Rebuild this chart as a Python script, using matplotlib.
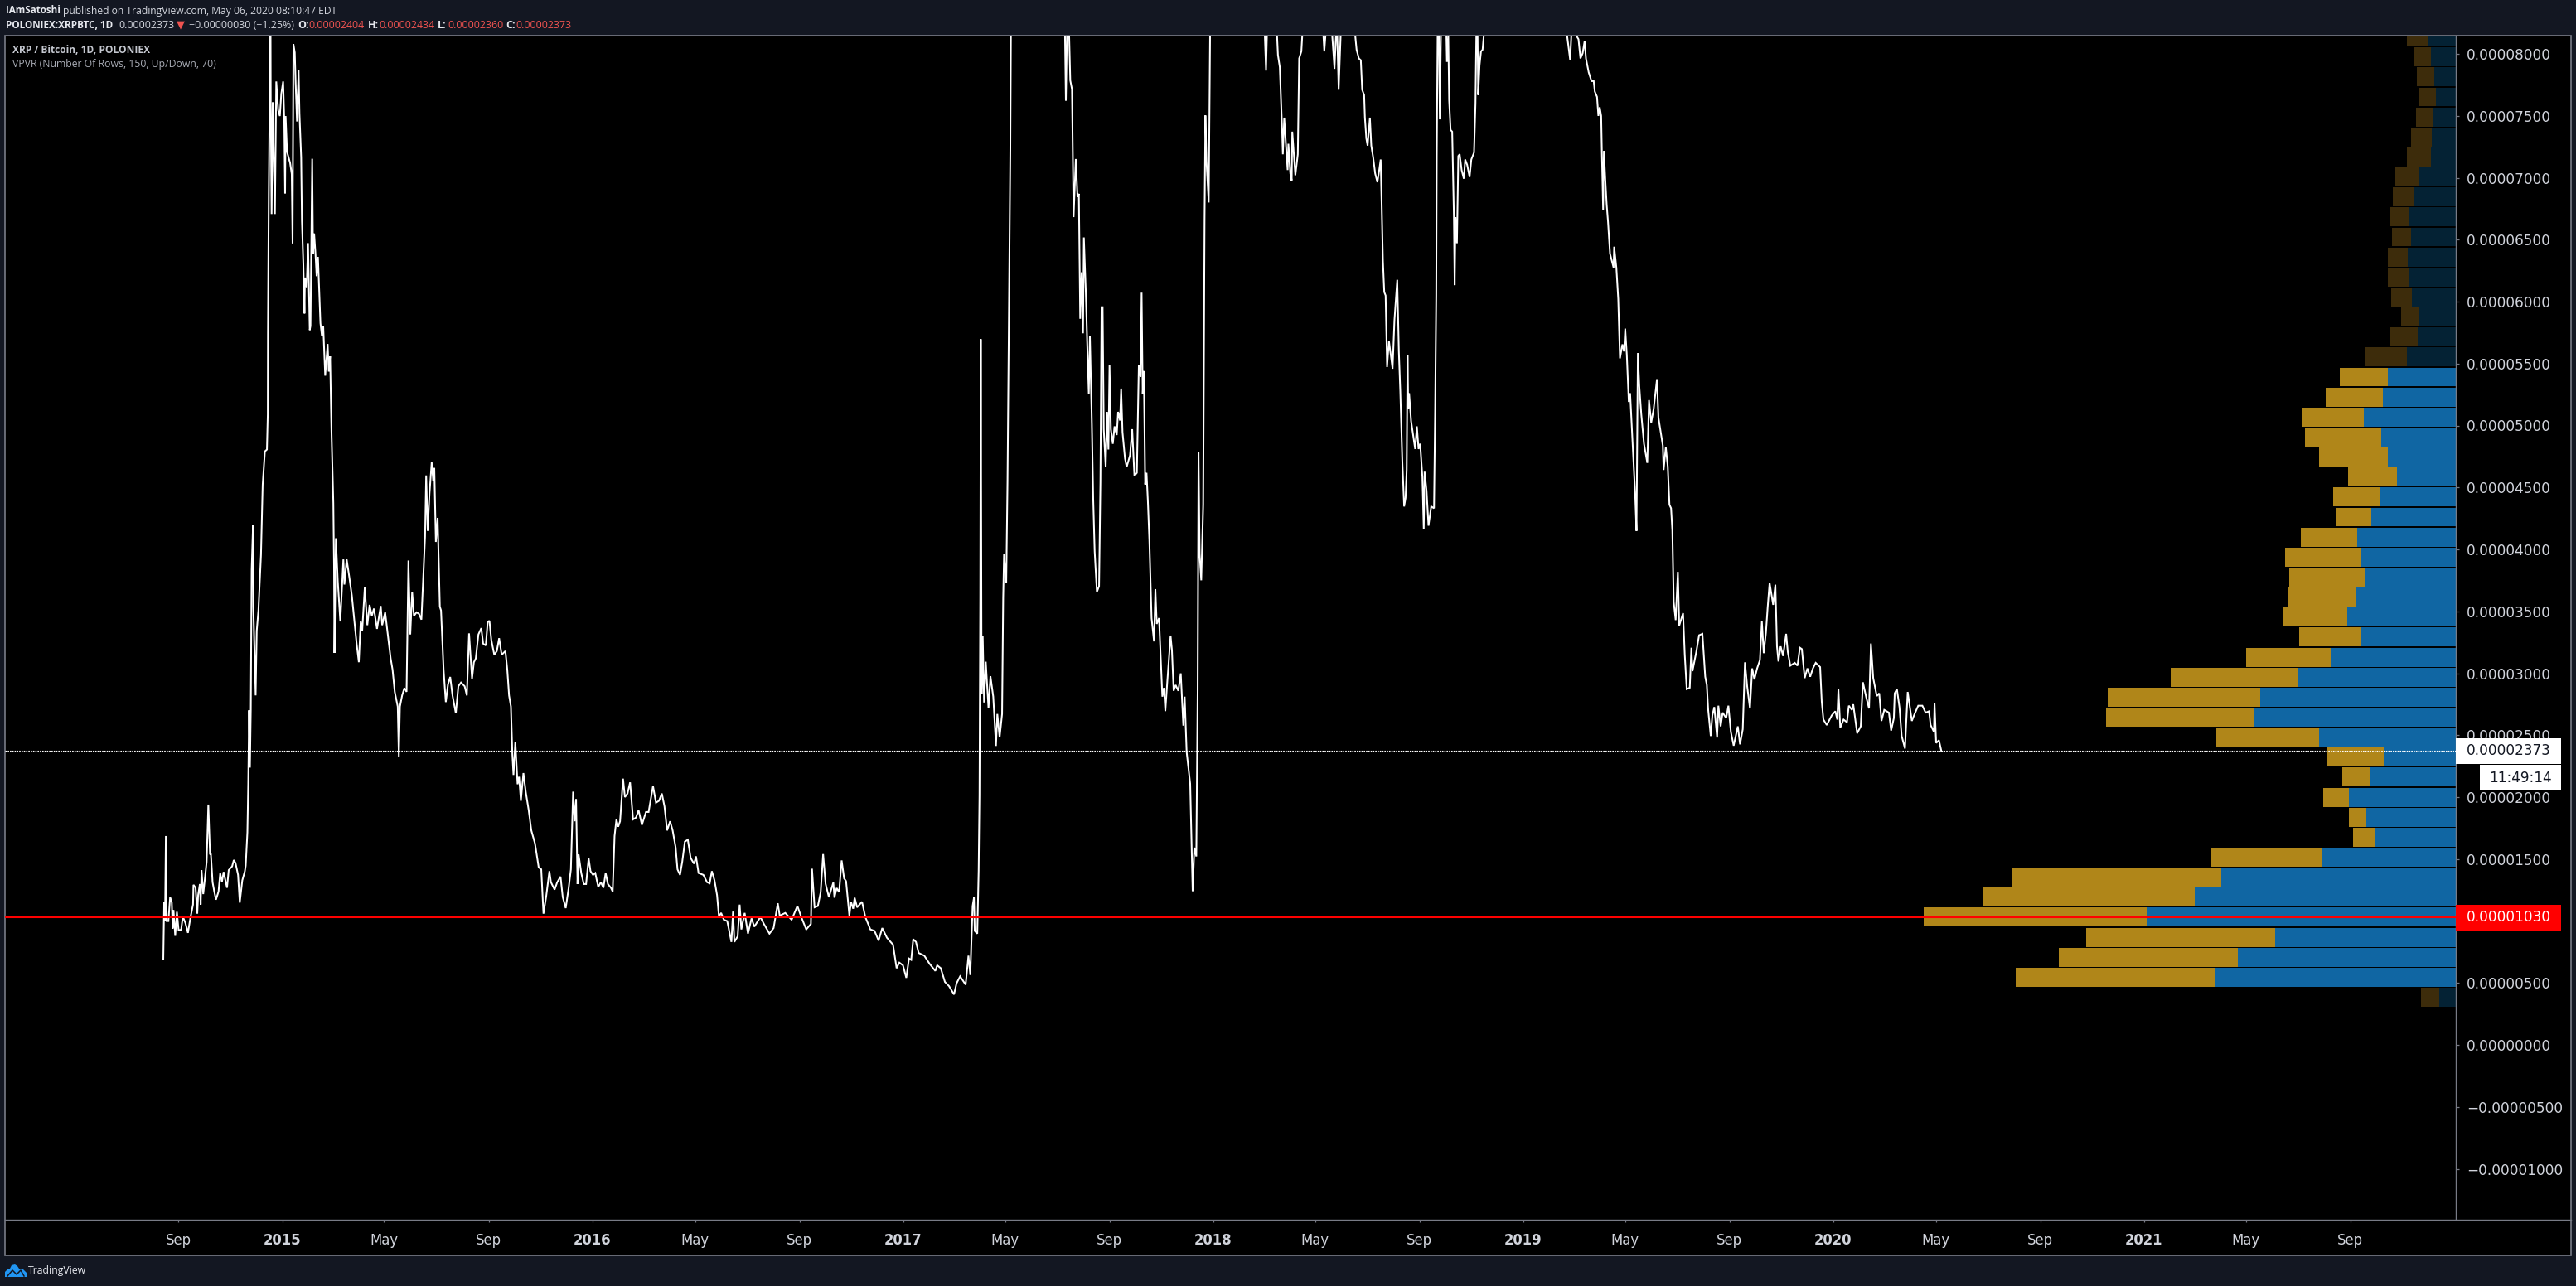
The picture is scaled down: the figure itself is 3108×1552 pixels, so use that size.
import matplotlib
matplotlib.use('Agg')
import matplotlib.pyplot as plt
import matplotlib.transforms as mtransforms
from matplotlib.patches import Rectangle, Polygon
from matplotlib.lines import Line2D
import numpy as np
import pandas as pd

# day numbers are counted from 2015-01-01, closes are in satoshi (1e-8 BTC)
days_2014 = [-140, -139, -138, -137, -136, -134, -132, -130, -129, -128, -126, -124, -122, -119, -117, -114, -111, -108, -105, -104.5, -102, -100, -99, -97, -96, -95, -93, -91, -89, -87, -85, -84, -82, -80, -78, -75, -73, -71, -69, -65, -63, -59, -57, -55, -52, -50, -47, -44, -43, -41, -40, -39, -38, -37, -36, -34.4, -34, -31.3, -30, -28, -25, -23, -20.4, -18, -17, -16.8, -15.8, -15.1, -14.5, -14.2, -13.8, -13.5, -12.5, -11.2, -8.6, -7, -4.7, -2.8, -1.1]
close_2014 = [695, 1148, 999, 1686, 999, 999, 1193, 1148, 939, 1089, 880, 1074, 925, 930, 1035, 984, 904, 1029, 1133, 1292, 1268, 1059, 1208, 1298, 1133, 1411, 1217, 1343, 1477, 1940, 1537, 1543, 1313, 1238, 1172, 1238, 1387, 1313, 1396, 1268, 1411, 1441, 1492, 1468, 1372, 1148, 1328, 1402, 1447, 1716, 2104, 2701, 2238, 2701, 3836, 4194, 3537, 2821, 3343, 3507, 3955, 4523, 4791, 4806, 5090, 5737, 6874, 7387, 7855, 8140, 8500, 7610, 6707, 7610, 6707, 7777, 7543, 7498, 7677]

days_2015 = [1.1, 2.4, 3.4, 4, 5.7, 9.3, 11.2, 12.2, 13.2, 14.8, 15.8, 17.4, 19.3, 20.3, 22.3, 23.2, 24.9, 26.2, 26.8, 28.8, 30.4, 32.4, 33.3, 35.3, 36.3, 37.6, 39.2, 40.5, 42.1, 43.7, 45, 46.7, 48.3, 50.6, 53.5, 54.8, 56.4, 58, 60.2, 61, 61.5, 63.2, 65.4, 68.4, 72, 73.2, 75.9, 79, 82, 84.6, 87.6, 90.2, 92.4, 94.2, 97.2, 100.2, 102.9, 105.5, 108, 111.6, 116, 117.7, 121.2, 124.6, 127.7, 129.9, 132.5, 136, 137.3, 138.6, 141.2, 143.8, 146.4, 148.6, 150.8, 153, 155.1, 158.2, 161.2, 163.9, 165.6, 168.2, 169.5, 171.3, 173.4, 176, 177.8, 179.1, 180.9, 183, 185.6, 187, 190, 192.6, 195.2, 197.8, 200.5, 204.4, 207.4, 210.5, 214.8, 217.4, 220, 223.5, 225.7, 227.9, 231, 234.4, 236.6, 239.7, 241.9, 244, 246.2, 249.7, 252.7, 255.4, 258.4, 262.8, 265, 267.1, 269.3, 271, 272.3, 274.5, 277.1, 278.9, 281, 284, 286.7, 290.2, 293.3, 297.6, 302, 305, 307.6, 310.7, 314.6, 316.4, 320.7, 323.8, 327.7, 330.3, 333.8, 337.3, 339.9, 342.5, 344.3, 346, 347.7, 349, 352.1, 355.1, 357.8, 360.8, 363]
close_2015 = [7777, 7476, 6874, 7498, 7208, 7119, 7030, 6472, 8078, 8011, 7766, 7454, 7866, 7520, 7164, 6651, 6294, 5904, 6194, 6116, 6472, 5770, 5803, 7153, 6383, 6550, 6383, 6205, 6361, 6071, 5826, 5725, 5803, 5402, 5658, 5435, 5558, 4956, 4373, 3866, 3164, 4090, 3746, 3418, 3919, 3716, 3919, 3776, 3627, 3448, 3239, 3089, 3418, 3343, 3693, 3388, 3552, 3463, 3522, 3358, 3543, 3388, 3492, 3298, 3119, 3030, 2850, 2731, 2328, 2731, 2821, 2880, 2850, 3910, 3313, 3657, 3463, 3492, 3478, 3433, 3701, 4105, 4597, 4149, 4448, 4702, 4553, 4657, 4060, 4254, 3537, 3507, 3030, 2767, 2910, 2970, 2821, 2677, 2895, 2925, 2895, 2821, 3322, 2955, 3089, 3119, 3313, 3364, 3239, 3224, 3412, 3424, 3269, 3149, 3179, 3283, 3149, 3179, 3030, 2821, 2731, 2343, 2179, 2447, 2104, 2164, 1970, 2194, 2044, 1895, 1731, 1626, 1432, 1417, 1059, 1193, 1402, 1313, 1253, 1313, 1358, 1193, 1104, 1268, 1417, 2044, 1805, 1985, 1298, 1537, 1387, 1298, 1298, 1507, 1402]

days_2016 = [366, 368.6, 372.1, 375.2, 378.2, 380.8, 383.5, 387, 389.1, 391.3, 393.5, 395.6, 397.8, 401.3, 403.5, 406.6, 409.6, 413.1, 416.6, 419.6, 423.5, 428.3, 431.4, 436.6, 440.1, 443.6, 447, 450.1, 453.2, 456.7, 459.7, 463.2, 465.4, 468.4, 471, 474.1, 477.6, 481, 485, 487.2, 490.2, 495.9, 500.2, 503.3, 505.9, 509, 512, 514.2, 516.8, 520, 524, 528.9, 530.8, 532.4, 536.3, 538.6, 540.6, 544.5, 548.4, 552.6, 555.9, 563, 567.2, 573.7, 578.6, 583.5, 585.8, 592.3, 599.8, 606.6, 611.2, 617, 622.5, 623.8, 626.8, 630.7, 634, 636.9, 639.8, 643.7, 648.9, 650.2, 652.8, 655.7, 658.7, 661.6, 663.9, 667.8, 669.7, 672.3, 674, 676.9, 682.7, 686.6, 692.5, 697.4, 702.2, 706.5, 712, 719.2, 723.4, 726.6]
close_2016 = [1372, 1387, 1274, 1313, 1268, 1387, 1298, 1268, 1238, 1686, 1820, 1761, 1805, 2149, 2000, 2029, 2119, 1820, 1835, 1895, 1776, 1880, 1880, 2089, 1955, 1970, 2029, 1925, 1731, 1805, 1731, 1596, 1417, 1372, 1477, 1641, 1656, 1507, 1462, 1522, 1387, 1372, 1313, 1304, 1402, 1328, 1208, 1035, 1065, 1010, 999, 831, 1076, 831, 876, 1132, 932, 1065, 898, 1021, 954, 1032, 976, 898, 943, 1143, 1043, 1065, 1010, 1121, 1032, 932, 976, 1422, 1110, 1121, 1232, 1540, 1300, 1192, 1311, 1188, 1266, 1233, 1489, 1344, 1322, 1043, 1155, 1099, 1188, 1110, 1155, 1032, 932, 920, 842, 943, 865, 809, 619, 664]

days_2017 = [730.9, 734.8, 738, 740.6, 743, 746.2, 749.4, 756, 762.4, 769, 771.2, 775.4, 780.3, 785.2, 791, 794, 798.2, 804.7, 808, 810.2, 812.9, 814.5, 815.4, 818.4, 820, 821, 821.9, 822.5, 823.5, 824.8, 826.4, 828.4, 831.6, 833.9, 837.2, 840.4, 842, 844.7, 847.6, 848.9, 849.9, 852.5, 854, 856, 857.3, 858, 860, 875, 890, 905, 918, 921.7, 922.7, 924, 925.3, 926.6, 927.9, 929.9, 931.8, 934.4, 936.4, 938, 939.6, 941.3, 942.9, 943.9, 946.1, 947.8, 949.7, 951, 953.3, 954.9, 956.6, 959.2, 961.8, 963.4, 964.7, 966, 967.3, 969.6, 971.2, 972.8, 974.1, 975.7, 978, 980, 982.6, 984.2, 986.5, 987.8, 989.4, 992.3, 994.3, 998.2, 1000.8, 1003.4, 1006.3, 1008.6, 1010.6, 1011.9, 1013.2, 1014.5, 1016.1, 1017.7, 1019.3, 1021, 1023.6, 1026.5, 1028.1, 1029.7, 1032.4, 1034.6, 1036.3, 1038.2, 1039.8, 1042.1, 1046, 1047.6, 1049.6, 1051.9, 1055.1, 1058, 1061, 1062.6, 1064.9, 1069.1, 1072, 1074, 1076.3, 1077.9, 1078.9, 1080.2, 1082.1, 1084.4, 1086, 1087, 1088.3, 1090.9, 1092.5]
close_2017 = [642, 541, 697, 686, 853, 831, 742, 720, 653, 597, 642, 619, 508, 474, 407, 497, 553, 486, 720, 564, 1121, 1188, 920, 898, 1404, 2014, 3609, 5697, 2835, 3304, 2764, 3093, 2717, 2976, 2811, 2413, 2671, 2483, 2671, 3609, 3961, 3726, 4548, 6190, 7222, 8160, 9500, 14000, 15500, 12000, 9000, 8141, 7621, 8141, 8400, 8141, 7785, 7714, 6682, 7151, 6846, 6870, 5861, 6237, 5744, 6518, 6096, 5673, 5251, 5720, 5017, 4407, 3984, 3656, 3703, 4547, 5955, 5955, 4970, 4665, 5110, 4806, 5486, 4970, 4852, 4993, 4923, 5110, 5040, 5298, 4946, 4735, 4665, 4759, 4970, 4594, 4618, 5486, 5392, 6072, 5251, 5439, 4524, 4618, 4383, 4078, 3445, 3257, 3679, 3398, 3445, 3093, 2811, 2882, 2694, 2929, 3304, 3187, 2858, 2905, 2858, 2999, 2577, 2811, 2365, 2108, 1240, 1592, 1521, 2858, 4782, 3961, 3750, 4360, 6659, 7503, 7128, 6800, 8141]

days_2018 = [1096, 1105, 1115, 1125, 1135, 1150, 1157, 1158.4, 1159.4, 1165, 1171.4, 1172.4, 1174.6, 1177.2, 1178.2, 1179.8, 1181.5, 1183.8, 1184.7, 1187, 1188.6, 1189.3, 1190.9, 1192.9, 1195.8, 1197.4, 1200, 1201, 1212, 1226, 1227, 1228.3, 1232, 1236.4, 1239, 1240.7, 1242.3, 1243.9, 1246.2, 1255, 1263.5, 1265, 1267.7, 1270, 1271.6, 1273.9, 1274.8, 1276.5, 1278, 1280.7, 1282.3, 1284.6, 1286.9, 1289.5, 1291.1, 1293.4, 1294.4, 1296, 1297.6, 1299.2, 1300.9, 1303.1, 1307.4, 1309.6, 1312.9, 1314.8, 1316.5, 1318.8, 1321, 1322.7, 1324, 1325, 1325.9, 1326.9, 1329.2, 1334, 1336, 1338, 1339.9, 1342.5, 1344.1, 1345.1, 1347.4, 1349.7, 1352.9, 1356.2, 1357.5, 1358.8, 1359.4, 1360.4, 1362, 1363, 1364.3, 1368, 1370.8, 1371.4, 1373, 1374, 1375.7, 1377.6, 1379.6, 1380.5, 1381.5, 1383.2, 1384.8, 1386.4, 1388.7, 1391.3, 1392.9, 1395.2, 1398.1, 1400.1, 1403.3, 1405, 1406, 1407.5, 1408.2, 1409.8, 1411.5, 1413.4, 1414.7, 1430, 1460]
close_2018 = [10000, 18000, 24000, 16000, 11000, 9000, 8141, 7865, 8141, 8800, 8141, 7991, 7893, 7414, 7189, 7485, 7302, 7062, 7274, 7034, 6978, 7372, 7217, 7020, 7189, 7963, 8020, 8141, 8900, 8141, 8020, 8141, 8400, 8141, 7879, 8141, 8141, 7710, 8141, 8800, 8141, 8034, 7963, 7949, 7710, 7668, 7485, 7316, 7259, 7485, 7259, 7161, 7034, 6964, 7034, 7147, 6837, 6330, 6077, 6049, 5472, 5683, 5458, 5852, 6176, 5598, 5275, 4726, 4346, 4416, 4642, 5570, 5134, 5261, 5036, 4810, 4993, 4810, 4853, 4585, 4163, 4627, 4473, 4191, 4346, 4332, 5106, 6049, 7175, 8141, 8141, 7471, 8141, 8600, 8141, 7935, 8141, 7625, 7386, 7372, 6696, 6133, 6682, 6471, 7175, 7189, 7062, 6992, 7147, 7105, 7006, 7147, 7203, 7597, 8141, 8141, 7668, 7907, 8020, 8034, 8141, 9500, 11000]

days_2019 = [1490, 1513, 1516.5, 1517.8, 1521, 1524.3, 1526.3, 1528.6, 1531.2, 1533.5, 1535.1, 1538.3, 1541.6, 1544.2, 1545.5, 1548.1, 1549.7, 1551.3, 1553, 1553.9, 1555.3, 1556.2, 1557.9, 1559.5, 1561.1, 1563.4, 1567.6, 1568.3, 1570.9, 1573.1, 1575.1, 1578, 1580, 1581.3, 1583.2, 1585.5, 1587.1, 1588.7, 1591, 1593, 1594.6, 1596.2, 1597.9, 1600.2, 1603.4, 1607.3, 1609.3, 1611.9, 1614.8, 1618.7, 1620.4, 1623, 1625.6, 1626.5, 1629.1, 1631.4, 1633.4, 1635.3, 1636.8, 1638.4, 1640.7, 1643.3, 1644.9, 1649.4, 1651.4, 1653.7, 1657.3, 1659.2, 1660.5, 1665, 1668.3, 1672.2, 1675.5, 1677.4, 1679, 1682, 1683.9, 1686.2, 1689.5, 1691, 1693.7, 1696, 1700.2, 1702.8, 1705.7, 1709, 1713.9, 1716.5, 1719.7, 1722.3, 1724.9, 1728.2, 1730.8]
close_2019 = [9000, 8141, 7949, 8141, 8300, 8141, 8118, 7963, 8005, 8104, 7963, 7851, 7780, 7780, 7696, 7653, 7499, 7569, 7499, 7175, 6739, 7217, 6978, 6781, 6640, 6387, 6274, 6443, 6274, 6021, 5542, 5655, 5598, 5782, 5570, 5190, 5261, 5036, 4698, 4444, 4149, 5585, 5317, 5092, 4853, 4698, 5205, 5022, 5134, 5374, 5064, 4951, 4838, 4641, 4825, 4670, 4360, 4332, 4154, 3574, 3429, 3819, 3385, 3485, 3150, 2872, 2883, 3206, 3017, 3173, 3307, 3318, 2972, 2905, 2704, 2493, 2660, 2727, 2481, 2738, 2571, 2682, 2638, 2738, 2526, 2415, 2571, 2426, 2548, 3088, 2894, 2716, 3039]

days_2020 = [1733.4, 1736.6, 1739.9, 1742.2, 1744.4, 1747, 1749, 1751.3, 1755.5, 1758.1, 1760, 1761.7, 1764.3, 1767.2, 1770.8, 1772.7, 1775.7, 1780.9, 1784.1, 1787, 1789.3, 1792.6, 1795.8, 1799.1, 1802.3, 1805.6, 1810.8, 1812.7, 1814.7, 1818.6, 1824.5, 1828.7, 1831, 1832.3, 1834.5, 1838.4, 1842.4, 1844.6, 1848.2, 1849.8, 1854.4, 1858.6, 1861.2, 1865.1, 1868.4, 1870.6, 1873.3, 1877.5, 1880.4, 1883, 1886.3, 1891.8, 1894.4, 1897.6, 1898.6, 1901.2, 1904.2, 1906.8, 1910.7, 1913.9, 1918.8, 1922, 1926.3, 1931.2, 1935, 1939, 1940.9, 1944.8, 1945.5, 1947.4, 1950.7, 1953.6]
close_2020 = [2950, 3039, 3106, 3418, 3162, 3329, 3530, 3730, 3552, 3715, 3217, 3095, 3217, 3139, 3318, 3173, 3061, 3084, 3061, 3206, 3195, 2961, 3039, 2972, 3039, 3084, 3050, 2771, 2626, 2582, 2660, 2693, 2626, 2872, 2560, 2626, 2604, 2738, 2704, 2749, 2515, 2571, 2927, 2805, 2716, 3240, 2961, 2816, 2838, 2615, 2704, 2682, 2537, 2638, 2838, 2872, 2727, 2493, 2392, 2849, 2615, 2671, 2738, 2738, 2682, 2693, 2582, 2526, 2760, 2437, 2459, 2370]

# visible range volume rows, from the lowest price up
vol_up = [20, 290, 263, 218, 373, 315, 283, 161, 97, 108, 129, 103, 87, 165, 243, 236, 190, 150, 115, 131, 121, 109, 114, 119, 102, 91, 71, 82, 90, 111, 88, 82, 59, 46, 44, 53, 56, 58, 54, 57, 51, 44, 30, 29, 27, 24, 26, 30, 33]
vol_down = [22, 241, 216, 228, 269, 256, 253, 134, 27, 21, 31, 34, 69, 124, 179, 184, 154, 103, 74, 77, 81, 92, 92, 68, 43, 57, 59, 83, 92, 75, 69, 58, 50, 34, 22, 25, 26, 24, 23, 23, 25, 29, 29, 25, 21, 20, 21, 21, 26]
row_low = 308
row_step = 161.5
value_area = (1, 31)  # rows inside the value area are drawn bright

last_price = 2373
level_price = 1030

y_ticks = list(range(-1000, 8001, 500))
x_tick_dates = ['2014-09-01', '2015-01-01', '2015-05-01', '2015-09-01', '2016-01-01', '2016-05-01', '2016-09-01', '2017-01-01', '2017-05-01', '2017-09-01', '2018-01-01', '2018-05-01', '2018-09-01', '2019-01-01', '2019-05-01', '2019-09-01', '2020-01-01', '2020-05-01', '2020-09-01', '2021-01-01', '2021-05-01', '2021-09-01']
x_tick_labels = ['Sep', '2015', 'May', 'Sep', '2016', 'May', 'Sep', '2017', 'May', 'Sep', '2018', 'May', 'Sep', '2019', 'May', 'Sep', '2020', 'May', 'Sep', '2021', 'May', 'Sep']

BG = '#131722'
FRAME = '#787b86'
TEXT = '#d1d4dc'
W, H = 3108, 1552
L, R, T, B = 6, 2963, 43, 1472
PX_PER_DAY = 1.0247
PX_PER_SAT = 0.1495


def fx(x):
    return x / W


def fy(y):
    return 1 - y / H


def put_text(x, y, s, width=None, size=9, **kw):
    # place text by pixel position, scale the size so it fills the given width
    kw.setdefault('color', TEXT)
    kw.setdefault('va', 'center')
    kw.setdefault('family', 'Open Sans')
    t = fig.text(fx(x), fy(y), s, fontsize=size, zorder=20, **kw)
    if width:
        w = t.get_window_extent(fig.canvas.get_renderer()).width
        t.set_fontsize(size * width / w)
    return t


fig = plt.figure(figsize=(W / 100, H / 100), dpi=100, facecolor=BG)

# black panel with the price and time scales
fig.add_artist(Rectangle((fx(L), fy(1515)), fx(3102 - L), (1515 - T) / H, transform=fig.transFigure,
                         facecolor='black', edgecolor=FRAME, linewidth=1.2, zorder=-1))

rect = [fx(L), fy(B), fx(R - L), (B - T) / H]
ax = fig.add_axes(rect, zorder=3)
ax.patch.set_visible(False)
vp = fig.add_axes(rect, zorder=2, facecolor='black')

xlim = ((L - 340.5) / PX_PER_DAY, (R - 340.5) / PX_PER_DAY)
ylim = ((1261 - B) / PX_PER_SAT, (1261 - T) / PX_PER_SAT)

# volume profile, grows leftwards from the price scale
vp.set_xlim(R - L, 0)
vp.set_ylim(*ylim)
vp.axis('off')
vol_up = np.array(vol_up)
vol_down = np.array(vol_down)
row_y = row_low + row_step * np.arange(len(vol_up))
for i in range(len(vol_up)):
    bright = value_area[0] <= i <= value_area[1]
    vp.barh(row_y[i], vol_up[i], height=row_step - 8, align='edge', color='#1066a3' if bright else '#042234', linewidth=0, antialiased=False)
    vp.barh(row_y[i], vol_down[i], left=vol_up[i], height=row_step - 8, align='edge', color='#b08619' if bright else '#3d2c0b', linewidth=0, antialiased=False)

# price line
days = np.concatenate([days_2014, days_2015, days_2016, days_2017, days_2018, days_2019, days_2020])
close = np.concatenate([close_2014, close_2015, close_2016, close_2017, close_2018, close_2019, close_2020])
ax.plot(days, close, color='white', linewidth=1.45, solid_joinstyle='miter', zorder=4)
ax.axhline(last_price, color='white', linewidth=0.8, linestyle=(0, (1.5, 1)), zorder=3)
ax.axhline(level_price, color='#ff0000', linewidth=1.5, zorder=5)

ax.set_xlim(*xlim)
ax.set_ylim(*ylim)

ax.yaxis.tick_right()
ax.set_yticks(y_ticks)
# the 0.00001000 label sits behind the red price label, so it stays empty
ax.set_yticklabels(['' if v == 1000 else ('\u2212' if v < 0 else '') + '%.8f' % (abs(v) / 1e8) for v in y_ticks])
x_pos = (pd.to_datetime(x_tick_dates) - pd.Timestamp('2015-01-01')).days
ax.set_xticks(x_pos)
ax.set_xticklabels(x_tick_labels)
for lab, s in zip(ax.get_xticklabels(), x_tick_labels):
    if s.isdigit():
        lab.set_fontweight('bold')
ax.tick_params(axis='y', length=3.2, width=0.9, color=FRAME, labelcolor=TEXT, labelsize=12.2, pad=6)
ax.tick_params(axis='x', length=2.4, width=0.9, color=FRAME, labelcolor=TEXT, labelsize=11.9, pad=9)
for side in ['top', 'left']:
    ax.spines[side].set_visible(False)
for side in ['bottom', 'right']:
    ax.spines[side].set_color(FRAME)
    ax.spines[side].set_linewidth(1.0)
fig.add_artist(Line2D([fx(R), fx(3102)], [fy(B), fy(B)], color=FRAME, linewidth=1.0, zorder=1))

# price labels on the scale, x in pixels and y in price
tr = mtransforms.blended_transform_factory(mtransforms.IdentityTransform(), ax.transData)
box_h = 31 / PX_PER_SAT


def price_label(price, x0, x1, face, color, text, weight='normal'):
    ax.add_patch(Rectangle((x0, price - box_h / 2), x1 - x0, box_h, transform=tr, facecolor=face,
                           linewidth=0, clip_on=False, zorder=10))
    ax.text((x0 + x1) / 2, price, text, transform=tr, color=color, fontsize=12.2, fontweight=weight,
            ha='center', va='center', clip_on=False, zorder=11)


price_label(last_price, R, 3090, 'white', '#131722', '%.8f' % (last_price / 1e8))
price_label(last_price - 32.5 / PX_PER_SAT, 2992, 3090, 'white', '#131722', '11:49:14')
price_label(level_price, R, 3090, '#ff0000', 'white', '%.8f' % (level_price / 1e8))

# header
put_text(7, 13, 'IAmSatoshi', width=66, fontweight='bold', color='#e6e8ee')
put_text(76, 13, 'published on TradingView.com, May 06, 2020 08:10:47 EDT', width=334)
put_text(7, 30, 'POLONIEX:XRPBTC, 1D', width=131, fontweight='bold', color='#e6e8ee')
put_text(143, 30, '0.00002373', width=67)
put_text(212.5, 30, '\u25bc', width=10, color='#ef5350', family='DejaVu Sans')
put_text(228, 30, '\u22120.00000030 (\u22121.25%)', width=126)
for x_lab, s in [(359, 'O:'), (444, 'H:'), (528, 'L:'), (610, 'C:')]:
    put_text(x_lab, 30, s, fontweight='bold', color='#e6e8ee', size=9)
val_text = {372: '0.00002404', 457: '0.00002434', 540: '0.00002360', 622: '0.00002373'}
for x_val, s in val_text.items():
    put_text(x_val, 30, s, width=67, color='#ef5350')

# legend inside the chart
put_text(15, 61, 'XRP / Bitcoin, 1D, POLONIEX', width=165, fontweight='bold', color='#c4c7cf')
put_text(15, 78, 'VPVR (Number Of Rows, 150, Up/Down, 70)', width=247, color='#a8abb4')

# footer logo
cloud = [(6, 1541), (6, 1535), (9, 1532), (12, 1531), (14, 1527), (18, 1526), (21, 1528), (23, 1531), (28, 1532), (32, 1536), (32, 1541)]
fig.add_artist(Polygon([(fx(x), fy(y)) for x, y in cloud], closed=True, transform=fig.transFigure, facecolor='#2196f3', linewidth=0, zorder=20))
zig = [(9, 1540), (15, 1533), (20, 1538), (25, 1533), (29, 1540)]
fig.add_artist(Line2D([fx(x) for x, y in zig], [fy(y) for x, y in zig], color=BG, linewidth=1.1, zorder=21))
put_text(34, 1534, 'TradingView', width=71, color='#e6e8ee')

fig.savefig('out.png', dpi=100, facecolor=BG)
